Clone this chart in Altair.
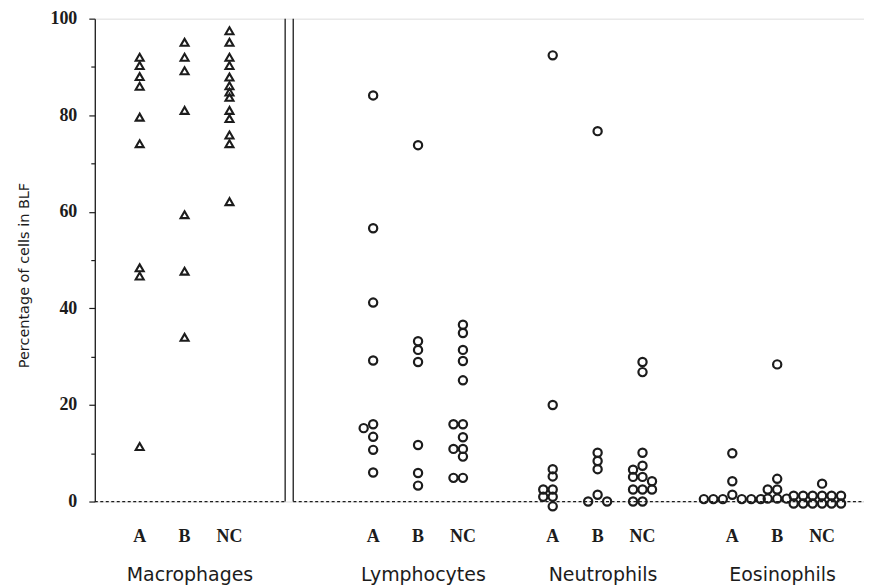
import math
import altair as alt
import pandas as pd

# ---------------- data ----------------
cell_types = ["Macrophages", "Lymphocytes", "Neutrophils", "Eosinophils"]
groups = ["A", "B", "NC"]

mac_A = [92.0, 90.3, 88.0, 86.0, 79.6, 74.1, 48.4, 46.7, 11.4]
mac_B = [95.1, 92.0, 89.2, 81.0, 59.4, 47.7, 34.0]
mac_NC = [97.5, 95.1, 92.0, 90.3, 87.9, 86.1, 84.8, 83.7, 81.0, 79.3, 75.9, 74.1, 62.1]

lym_A = [84.1, 56.6, 41.2, 29.2, 16.0, 15.2, 13.4, 10.7, 6.0]
lym_B = [73.8, 33.2, 31.4, 28.9, 11.7, 5.9, 3.3]
lym_NC = [36.6, 34.9, 31.4, 29.1, 25.1, 16.0, 16.0, 13.3, 10.9, 10.9, 9.3, 4.9, 4.9]

neu_A = [92.4, 20.0, 6.7, 5.2, 2.5, 2.5, 1.0, 1.0, -1.0]
neu_B = [76.7, 10.1, 8.4, 6.7, 1.4, 0.0, 0.0]
neu_NC = [28.9, 26.8, 10.1, 7.4, 6.6, 5.1, 5.1, 4.2, 2.5, 2.5, 2.5, 0.0, 0.0]

eos_A = [10.0, 4.2, 1.4, 0.5, 0.5, 0.5, 0.5, 0.5, 0.5]
eos_B = [28.4, 4.7, 2.5, 2.5, 0.6, 0.6, 0.6]
eos_NC = [3.7, 1.2, 1.2, 1.2, 1.2, 1.2, 1.2, -0.4, -0.4, -0.4, -0.4, -0.4, -0.4]

series = {
    "Macrophages": [mac_A, mac_B, mac_NC],
    "Lymphocytes": [lym_A, lym_B, lym_NC],
    "Neutrophils": [neu_A, neu_B, neu_NC],
    "Eosinophils": [eos_A, eos_B, eos_NC],
}
y_ticks = [0, 10, 20, 30, 40, 50, 60, 70, 80, 90, 100]

# ---------------- layout ----------------
W, H = 771, 484
X_MIN = -2.0
PX_PER_U = 45.0
X_MAX = X_MIN + W / PX_PER_U
PX_PER_VAL = H / 100.0
group_center = {"Macrophages": 0.0, "Lymphocytes": 5.2, "Neutrophils": 9.2, "Eosinophils": 13.2}
sub_off = {"A": -1.0, "B": 0.0, "NC": 1.0}
SEP = 2.33
SEP_GAP = 0.09


def swarm(values, diam, step):
    """simple beeswarm: horizontal pixel offsets that avoid overlaps"""
    offs = [0.0] * len(values)
    placed = []
    cands = [0, -1, 1, -2, 2, -3, 3, -4, 4]
    for i in sorted(range(len(values)), key=lambda k: -values[k]):
        y = values[i] * PX_PER_VAL
        x = 0.0
        for c in cands:
            x = c * step
            if all(math.hypot(x - px, y - py) >= diam for px, py in placed):
                break
        placed.append((x, y))
        offs[i] = x
    return offs


rows = []
for ct in cell_types:
    for g, vals in zip(groups, series[ct]):
        offs = swarm(vals, 0.0 if ct == "Macrophages" else 7.0, 9.5)
        for v, o in zip(vals, offs):
            rows.append({
                "cell": ct, "group": g, "value": v,
                "u": group_center[ct] + sub_off[g] + o / PX_PER_U,
            })
df = pd.DataFrame(rows)

sub_labels = pd.DataFrame([
    {"u": group_center[ct] + sub_off[g], "text": g} for ct in cell_types for g in groups
])
grp_labels = pd.DataFrame([
    {"u": group_center[ct] + 0.12, "text": ct} for ct in cell_types
])
sep_lines = pd.DataFrame({"u": [SEP - SEP_GAP, SEP + SEP_GAP], "y0": [0, 0], "y1": [100, 100]})
base_lines = pd.DataFrame({"u0": [X_MIN, SEP + SEP_GAP], "u1": [SEP - SEP_GAP, X_MAX], "y": [0, 0]})

xscale = alt.Scale(domain=[X_MIN, X_MAX], nice=False, zero=False)
yscale = alt.Scale(domain=[0, 100], nice=False, zero=False)

INK = "#1c1c1c"

yaxis = alt.Axis(
    values=y_ticks,
    labelExpr="datum.value % 20 === 0 ? datum.label : ''",
    labelFont="Liberation Serif", labelFontWeight="bold", labelFontSize=18,
    labelColor=INK, labelPadding=12,
    tickSize={"condition": {"test": "datum.value % 20 === 0", "value": 6}, "value": 4},
    tickColor=INK, tickWidth=1.2, domainColor=INK, domainWidth=1.3,
    grid=False,
    title="Percentage of cells in BLF",
    titleFont="DejaVu Sans", titleFontWeight="normal", titleFontSize=14.5,
    titleColor=INK, titleX=-70, titleY=257, titleAngle=-90, titleBaseline="middle",
    titleAlign="center",
)

tri = alt.Chart(df).transform_filter("datum.cell === 'Macrophages'").mark_point(
    shape="triangle-up", filled=False, size=64, strokeWidth=2.1, color=INK, opacity=1
).encode(
    x=alt.X("u:Q", scale=xscale, axis=None),
    y=alt.Y("value:Q", scale=yscale, axis=yaxis),
)

circ = alt.Chart(df).transform_filter("datum.cell !== 'Macrophages'").mark_point(
    shape="circle", filled=False, size=68, strokeWidth=2.2, color=INK, opacity=1
).encode(
    x=alt.X("u:Q", scale=xscale, axis=None),
    y=alt.Y("value:Q", scale=yscale),
)

seps = alt.Chart(sep_lines).mark_rule(color=INK, strokeWidth=1.3).encode(
    x=alt.X("u:Q", scale=xscale, axis=None),
    y=alt.Y("y0:Q", scale=yscale),
    y2="y1:Q",
)

base = alt.Chart(base_lines).mark_rule(color=INK, strokeWidth=1.3, strokeDash=[3, 2.5]).encode(
    x=alt.X("u0:Q", scale=xscale, axis=None),
    x2="u1:Q",
    y=alt.Y("y:Q", scale=yscale),
)

sub_txt = alt.Chart(sub_labels).mark_text(
    font="Liberation Serif", fontWeight="bold", fontSize=18, color=INK, baseline="alphabetic"
).encode(
    x=alt.X("u:Q", scale=xscale, axis=None),
    y=alt.value(525),
    text="text:N",
)

grp_txt = alt.Chart(grp_labels).mark_text(
    font="DejaVu Sans", fontWeight="normal", fontSize=19, color=INK, baseline="alphabetic"
).encode(
    x=alt.X("u:Q", scale=xscale, axis=None),
    y=alt.value(564),
    text="text:N",
)

chart = alt.layer(base, seps, tri, circ, sub_txt, grp_txt).properties(
    width=W, height=H,
    padding={"left": 87, "top": 10, "right": 0, "bottom": 86},
    autosize=alt.AutoSizeParams(type="none"),
).configure_view(stroke=None).configure(background="white")

chart.save("out.html", embed_options={"renderer": "svg", "actions": False})
